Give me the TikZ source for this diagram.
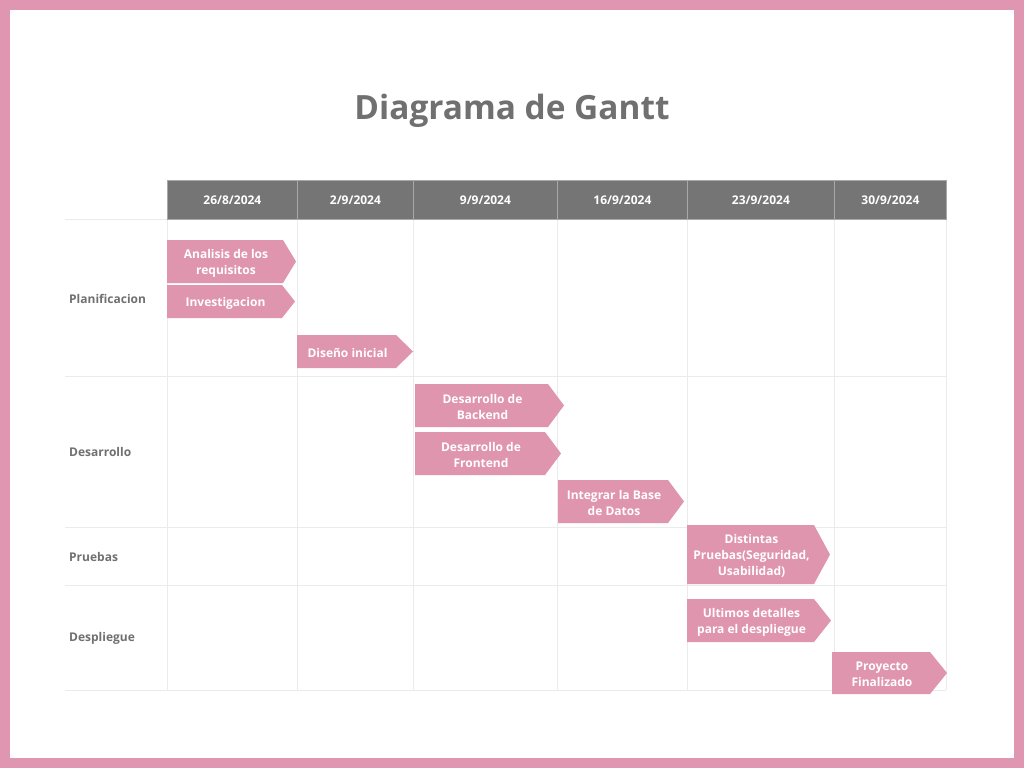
\documentclass[tikz,border=0pt]{standalone}
\usepackage{fontspec}
\setmainfont{Open Sans}
\usetikzlibrary{backgrounds}
\definecolor{framepink}{HTML}{E096B0}
\definecolor{barpink}{HTML}{DF95AE}
\definecolor{hdrgrey}{HTML}{757575}
\definecolor{hdrline}{HTML}{A8A8A8}
\definecolor{txtgrey}{HTML}{707070}
\definecolor{gridgrey}{HTML}{EBEBEB}
\tikzset{
  barbox/.style={text=white, inner sep=0pt, align=center,
    font=\fontsize{12}{16}\selectfont\bfseries},
  hdrbox/.style={fill=hdrgrey, draw=hdrline, line width=0.8pt, text=white, inner sep=0pt,
    font=\fontsize{12}{14}\selectfont\bfseries, anchor=north west},
  rowlabel/.style={text=txtgrey, anchor=west, inner sep=0pt,
    font=\fontsize{12}{14}\selectfont\bfseries},
  gridline/.style={draw=gridgrey, line width=0.8pt}
}
\newcommand\ganttbar[7]{%
  \coordinate (#1-nw) at (#2,#3);
  \coordinate (#1-se) at (#4,#5);
  \node[barbox] (#1) at ({(#2+#4)/2+1},{(#3+#5)/2+1.5}) {#7};
  \begin{pgfonlayer}{background}
  \fill[barpink] (#1-nw) -- (#1-nw -| #1-se) -- (#6,{(#3+#5)/2}) -- (#1-se) -- (#1-se -| #1-nw) -- cycle;
  \end{pgfonlayer}}
\begin{document}
\begin{tikzpicture}[x=1pt,y=-1pt]
\useasboundingbox (0,0) rectangle (1024,768);
\begin{pgfonlayer}{background}
\fill[framepink] (0,0) rectangle (1024,768);
\fill[white] (10,10) rectangle (1014,758);
% grid
\foreach \yy in {219,376,527,585,690} \draw[gridline] (65,\yy) -- (946,\yy);
\foreach \xx in {167,297,413,557,687,834,946} \draw[gridline] (\xx,219) -- (\xx,690);
\end{pgfonlayer}
\node[text=txtgrey, font=\fontsize{33.4}{40}\selectfont\bfseries] (title) at (512,111) {Diagrama de Gantt};
% header
\foreach \xa/\xb/\lab [count=\i] in {167/297/26\slash 8\slash 2024, 297/413/2\slash 9\slash 2024, 413/557/9\slash 9\slash 2024, 557/687/16\slash 9\slash 2024, 687/834/23\slash 9\slash 2024, 834/946/30\slash 9\slash 2024}
  \node[hdrbox, minimum width={\xb-\xa}, minimum height=39] (h\i) at (\xa,180) {\lab};
% row labels
\node[rowlabel] (r1) at (69,299) {Planificacion};
\node[rowlabel] (r2) at (69,452) {Desarrollo};
\node[rowlabel] (r3) at (69,557) {Pruebas};
\node[rowlabel] (r4) at (69,638) {Despliegue};
% bars
\ganttbar{b1}{167}{240}{283}{283}{296}{Analisis de los\\requisitos}
\ganttbar{b2}{167}{285}{282}{318}{295}{Investigacion}
\ganttbar{b3}{297}{335}{396}{368}{413}{Diseño inicial}
\ganttbar{b4}{415}{384}{548}{427}{564}{Desarrollo de\\Backend}
\ganttbar{b5}{415}{432}{545}{475}{561}{Desarrollo de\\Frontend}
\ganttbar{b6}{558}{480}{668}{523}{684}{Integrar la Base\\de Datos}
\ganttbar{b7}{687}{525}{814}{584}{830}{Distintas\\Pruebas(Seguridad,\\Usabilidad)}
\ganttbar{b8}{687}{599}{814}{642}{831}{Ultimos detalles\\para el despliegue}
\ganttbar{b9}{832}{652}{930}{694}{947}{Proyecto\\Finalizado}
\end{tikzpicture}
\end{document}
